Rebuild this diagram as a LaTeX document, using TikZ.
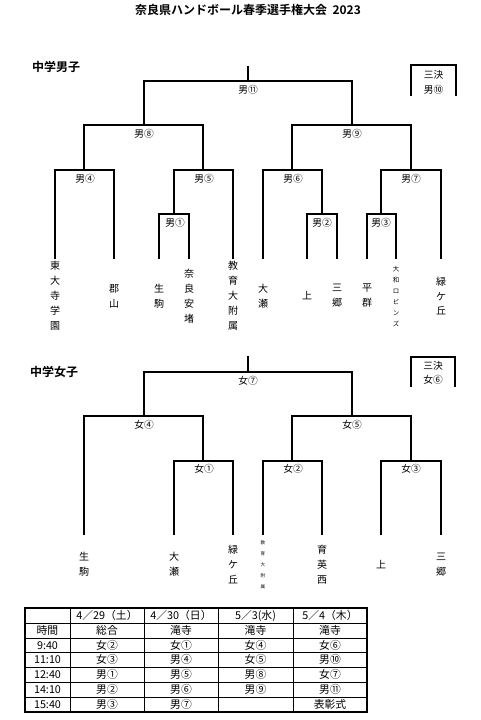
\documentclass[tikz,border=0pt]{standalone}
\usepackage{fontspec}
\setmainfont{Noto Sans CJK JP}[BoldFont={Noto Sans CJK JP Bold}]
\newcommand\tabrow[7]{%
  \node[cell] (t#1a) at (47.5,#2) {#3};
  \node[cell] (t#1b) at (107,#2) {#4};
  \node[cell] (t#1c) at (181,#2) {#5};
  \node[cell] (t#1d) at (255.5,#2) {#6};
  \node[cell] (t#1e) at (330,#2) {#7};}
\begin{document}
\begin{tikzpicture}[x=0.75pt,y=-0.75pt,
  br/.style={line width=0.9pt},
  lab/.style={font=\fontsize{7.3}{8}\selectfont, inner sep=0},
  team/.style={font=\fontsize{7.5}{11.25}\selectfont, align=center, inner sep=0},
  smallteam/.style={font=\fontsize{4.8}{8.25}\selectfont, align=center, inner sep=0},
  tinyteam/.style={font=\fontsize{3.4}{8.25}\selectfont, align=center, inner sep=0},
  head/.style={font=\bfseries\fontsize{9}{10}\selectfont, inner sep=0},
  cell/.style={font=\fontsize{8.1}{9}\selectfont, inner sep=0, anchor=base}]
\useasboundingbox (0,0) rectangle (480,720);
\fill[white] (0,0) rectangle (480,720);

% title
\node[head] (title) at (248,10) {奈良県ハンドボール春季選手権大会\ \ 2023};
\node[head] (boys) at (56,67) {中学男子};
\node[head] (girls) at (54,372) {中学女子};

% ---------------- boys bracket ----------------
\coordinate (b11top) at (248,66);
\coordinate (b11) at (248,81);
\draw[br] (b11top) -- (b11);
\draw[br] (144,125) |- (352,81) -- (352,125);
\draw[br] (84,170) |- (203,125) -- (203,170);
\draw[br] (292,170) |- (411,125) -- (411,170);
\draw[br] (55,259) |- (114,170) -- (114,259);
\draw[br] (174,214) |- (233,170) -- (233,259);
\draw[br] (159,259) |- (189,214) -- (189,259);
\draw[br] (263,259) |- (322,170) -- (322,214);
\draw[br] (307,259) |- (337,214) -- (337,259);
\draw[br] (381,214) |- (441,170) -- (441,259);
\draw[br] (367,259) |- (396,214) -- (396,259);

\node[lab] (m11) at (248,89.5) {男⑪};
\node[lab] (m8) at (144,133.5) {男⑧};
\node[lab] (m9) at (352,133.5) {男⑨};
\node[lab] (m4) at (85,178.5) {男④};
\node[lab] (m5) at (204,178.5) {男⑤};
\node[lab] (m6) at (293,178.5) {男⑥};
\node[lab] (m7) at (411,178.5) {男⑦};
\node[lab] (m1) at (175,222.5) {男①};
\node[lab] (m2) at (322,222.5) {男②};
\node[lab] (m3) at (381,222.5) {男③};

% third place boys
\draw[br] (411,96) |- (456,65) -- (456,96);
\node[lab] (b3a) at (433.5,75) {三決};
\node[lab] (b3b) at (433.5,89.5) {男⑩};

% boys teams
\node[team] (bt1) at (55,296) {東\\大\\寺\\学\\園};
\node[team] (bt2) at (114,296) {郡\\山};
\node[team] (bt3) at (159,296) {生\\駒};
\node[team] (bt4) at (189,296) {奈\\良\\安\\堵};
\node[team] (bt5) at (233,296) {教\\育\\大\\附\\属};
\node[team] (bt6) at (263,296) {大\\瀬};
\node[team] (bt7) at (307,296) {上};
\node[team] (bt8) at (337,296) {三\\郷};
\node[team] (bt9) at (367,296) {平\\群};
\node[smallteam] (bt10) at (396,296) {大\\和\\ロ\\ビ\\ン\\ズ};
\node[team,font=\fontsize{7.5}{10.9}\selectfont] (bt11) at (441,296) {緑\\ケ\\丘};

% ---------------- girls bracket ----------------
\coordinate (g7top) at (248,356);
\coordinate (g7) at (248,372);
\draw[br] (g7top) -- (g7);
\draw[br] (144,416) |- (352,372) -- (352,416);
\draw[br] (84,535) |- (203,416) -- (203,461);
\draw[br] (292,461) |- (411,416) -- (411,461);
\draw[br] (174,535) |- (233,461) -- (233,535);
\draw[br] (263,535) |- (322,461) -- (322,535);
\draw[br] (381,535) |- (441,461) -- (441,535);

\node[lab] (w7) at (248,380.5) {女⑦};
\node[lab] (w4) at (144,424.5) {女④};
\node[lab] (w5) at (352,424.5) {女⑤};
\node[lab] (w1) at (204,469) {女①};
\node[lab] (w2) at (293,469) {女②};
\node[lab] (w3) at (411,469) {女③};

% third place girls
\draw[br] (411,387) |- (455,357) -- (455,387);
\node[lab] (g3a) at (433,366) {三決};
\node[lab] (g3b) at (433,380) {女⑥};

% girls teams
\node[team] (gt1) at (84,564.5) {生\\駒};
\node[team] (gt2) at (174,564.5) {大\\瀬};
\node[team] (gt3) at (233,564.5) {緑\\ケ\\丘};
\node[tinyteam] (gt4) at (263,564.5) {教\\育\\大\\附\\属};
\node[team] (gt5) at (322,564.5) {育\\英\\西};
\node[team] (gt6) at (381,564.5) {上};
\node[team] (gt7) at (441,564.5) {三\\郷};

% ---------------- schedule table ----------------
\foreach \yy in {623,638,652,667,682,697}
  \draw[line width=0.65pt] (25,\yy) -- (367,\yy);
\foreach \xx in {70,144,218,293}
  \draw[line width=0.65pt] (\xx,608) -- (\xx,712);
\draw[line width=1.2pt] (25,608) rectangle (367,712);

\tabrow{0}{619.6}{}{4／29（土）}{4／30（日）}{5／3(水)}{5／4（木）}
\tabrow{1}{634.6}{時間}{総合}{滝寺}{滝寺}{滝寺}
\tabrow{2}{649.1}{9:40}{女②}{女①}{女④}{女⑥}
\tabrow{3}{663.6}{11:10}{女③}{男④}{女⑤}{男⑩}
\tabrow{4}{678.6}{12:40}{男①}{男⑤}{男⑧}{女⑦}
\tabrow{5}{693.6}{14:10}{男②}{男⑥}{男⑨}{男⑪}
\tabrow{6}{708.6}{15:40}{男③}{男⑦}{}{表彰式}
\end{tikzpicture}
\end{document}
